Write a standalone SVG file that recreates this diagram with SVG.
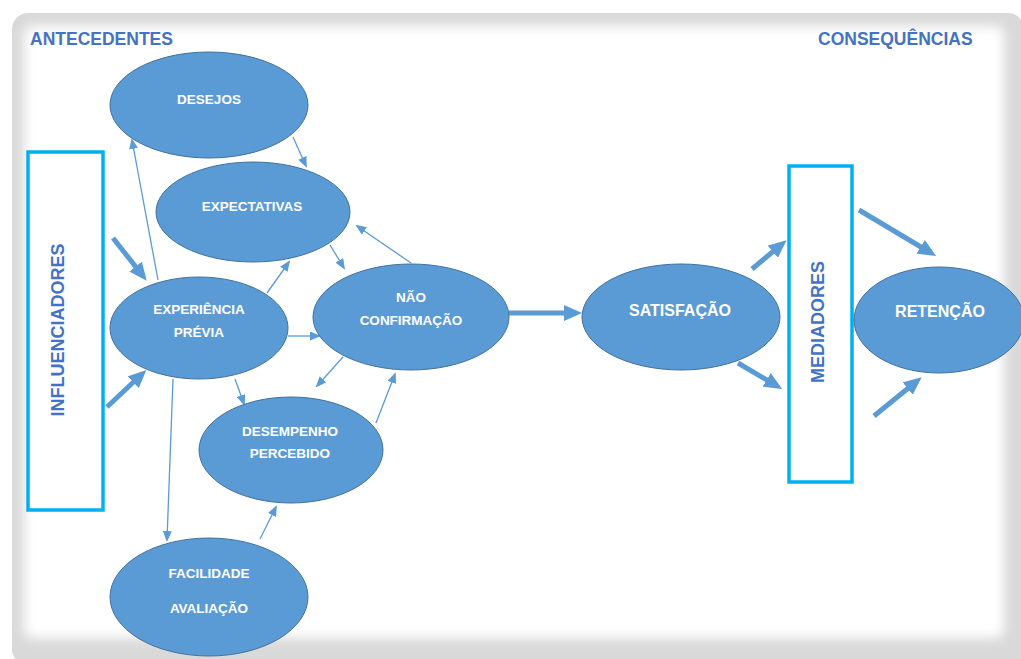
<svg xmlns="http://www.w3.org/2000/svg" width="1021" height="659" viewBox="0 0 1021 659">
  <defs>
    <style>
      .node ellipse { fill: #5b9bd5; stroke: #41719c; stroke-width: 1; }
      .node text { fill: #ffffff; font-family: "Liberation Sans", Arial, sans-serif; font-weight: bold; font-size: 13.5px; text-anchor: middle; }
      .node text.big { font-size: 16px; }
      .box rect { fill: #ffffff; stroke: #00b0f0; stroke-width: 3.5; }
      .box text, .heading { fill: #4472c4; font-family: "Liberation Sans", Arial, sans-serif; font-weight: bold; }
      .box text { font-size: 18px; text-anchor: middle; }
      .heading { font-size: 17.5px; }
      .thin { stroke: #5b9bd5; stroke-width: 1.3; fill: none; marker-end: url(#tip); }
      .thick { stroke: #5b9bd5; stroke-width: 5; fill: none; marker-end: url(#bigtip); }
    </style>
    <marker id="tip" markerUnits="userSpaceOnUse" markerWidth="11" markerHeight="9" refX="9" refY="4.5" orient="auto">
      <path d="M0,0 L11,4.5 L0,9 z" fill="#5b9bd5"/>
    </marker>
    <marker id="bigtip" markerUnits="userSpaceOnUse" markerWidth="18" markerHeight="16" refX="12" refY="8" orient="auto">
      <path d="M0,0 L18,8 L0,16 z" fill="#5b9bd5"/>
    </marker>
    <filter id="soft" x="-5%" y="-5%" width="110%" height="110%">
      <feGaussianBlur stdDeviation="6"/>
    </filter>
  </defs>

  <!-- page background and framed panel -->
  <rect x="0" y="0" width="1021" height="659" fill="#ffffff"/>
  <rect x="12" y="13" width="1012" height="652" rx="16" fill="#d9d9d9"/>
  <rect x="24" y="26" width="980" height="612" rx="8" fill="#ffffff" filter="url(#soft)"/>

  <!-- headings -->
  <text class="heading" x="30" y="45">ANTECEDENTES</text>
  <text class="heading" x="818" y="45">CONSEQUÊNCIAS</text>

  <!-- side boxes -->
  <g id="influenciadores" class="box">
    <rect x="28" y="152" width="75" height="358"/>
    <text transform="translate(64,330) rotate(-90)">INFLUENCIADORES</text>
  </g>
  <g id="mediadores" class="box">
    <rect x="789" y="166" width="63" height="316"/>
    <text transform="translate(824,322) rotate(-90)">MEDIADORES</text>
  </g>

  <!-- connectors -->
  <g id="connectors">
    <line class="thin" x1="158" y1="280" x2="132" y2="140"/>
    <line class="thin" x1="293" y1="137" x2="306" y2="166"/>
    <line class="thin" x1="267" y1="293" x2="289" y2="262"/>
    <line class="thin" x1="330" y1="245" x2="344" y2="268"/>
    <line class="thin" x1="411" y1="263" x2="357" y2="226"/>
    <line class="thin" x1="288" y1="336" x2="319" y2="336"/>
    <line class="thin" x1="343" y1="357" x2="317" y2="386"/>
    <line class="thin" x1="376" y1="423" x2="395" y2="374"/>
    <line class="thin" x1="235" y1="379" x2="244" y2="404"/>
    <line class="thin" x1="173" y1="379" x2="167" y2="540"/>
    <line class="thin" x1="260" y1="539" x2="276" y2="507"/>

    <line class="thick" x1="113" y1="238" x2="143" y2="276"/>
    <line class="thick" x1="107" y1="407" x2="142" y2="374"/>
    <line class="thick" x1="509" y1="313" x2="576" y2="313"/>
    <line class="thick" x1="752" y1="269" x2="782" y2="244"/>
    <line class="thick" x1="738" y1="363" x2="777" y2="386"/>
    <line class="thick" x1="859" y1="210" x2="931" y2="253"/>
    <line class="thick" x1="874" y1="416" x2="917" y2="381"/>
  </g>

  <!-- nodes -->
  <g id="desejos" class="node">
    <ellipse cx="209" cy="105" rx="99" ry="53"/>
    <text x="209" y="104">DESEJOS</text>
  </g>
  <g id="expectativas" class="node">
    <ellipse cx="253" cy="212" rx="97" ry="50"/>
    <text x="252" y="211">EXPECTATIVAS</text>
  </g>
  <g id="experiencia-previa" class="node">
    <ellipse cx="199" cy="328" rx="89" ry="51"/>
    <text x="199" y="314">EXPERIÊNCIA</text>
    <text x="199" y="337">PRÉVIA</text>
  </g>
  <g id="nao-confirmacao" class="node">
    <ellipse cx="411" cy="317" rx="98" ry="53"/>
    <text x="411" y="302">NÃO</text>
    <text x="411" y="325">CONFIRMAÇÃO</text>
  </g>
  <g id="desempenho-percebido" class="node">
    <ellipse cx="291" cy="450" rx="92" ry="53"/>
    <text x="290" y="436">DESEMPENHO</text>
    <text x="290" y="458">PERCEBIDO</text>
  </g>
  <g id="facilidade-avaliacao" class="node">
    <ellipse cx="209" cy="597" rx="99" ry="59"/>
    <text x="209" y="578">FACILIDADE</text>
    <text x="209" y="613">AVALIAÇÃO</text>
  </g>
  <g id="satisfacao" class="node">
    <ellipse cx="681" cy="317" rx="99" ry="53"/>
    <text class="big" x="680" y="316">SATISFAÇÃO</text>
  </g>
  <g id="retencao" class="node">
    <ellipse cx="939" cy="320" rx="85" ry="53"/>
    <text class="big" x="940" y="317">RETENÇÃO</text>
  </g>
</svg>
